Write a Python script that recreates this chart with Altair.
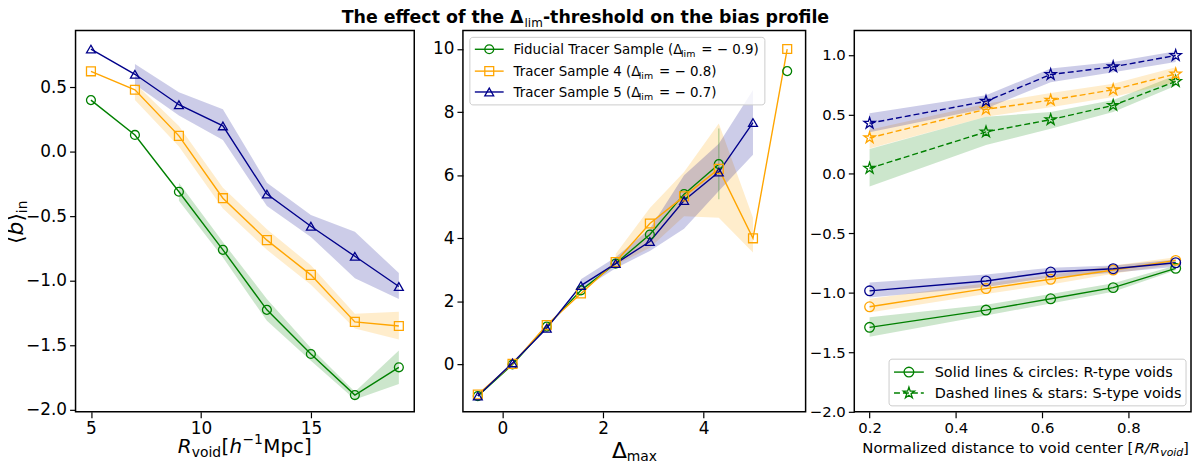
import altair as alt
import pandas as pd

GREEN, ORANGE, BLUE = "#008000", "#FFA500", "#00008B"
SERIES = ["fid", "s4", "s5"]
COLORS = [GREEN, ORANGE, BLUE]
SHAPES = ["circle", "square", "triangle-up"]
FONT = "DejaVu Sans"
STAR = ("M0,-1L0.2245,-0.309L0.951,-0.309L0.3633,0.118L0.588,0.809L0,0.382"
        "L-0.588,0.809L-0.3633,0.118L-0.951,-0.309L-0.2245,-0.309Z")

# ---------------- left panel: bias vs R_void ----------------
left_x = [5, 7, 9, 11, 13, 15, 17, 19]
left_green = [0.40, 0.13, -0.31, -0.76, -1.225, -1.567, -1.885, -1.67]
left_green_lo = [None, None, -0.38, -0.82, -1.31, -1.62, -1.92, -1.80]
left_green_hi = [None, None, -0.24, -0.70, -1.14, -1.52, -1.86, -1.54]
left_orange = [0.623, 0.48, 0.123, -0.36, -0.685, -0.954, -1.318, -1.35]
left_orange_lo = [None, 0.40, 0.04, -0.44, -0.76, -1.03, -1.37, -1.455]
left_orange_hi = [None, 0.53, 0.20, -0.28, -0.60, -0.88, -1.256, -1.24]
left_blue = [0.795, 0.60, 0.364, 0.20, -0.328, -0.577, -0.81, -1.044]
left_blue_lo = [None, 0.52, 0.28, 0.09, -0.42, -0.66, -0.98, -1.14]
left_blue_hi = [None, 0.68, 0.46, 0.33, -0.24, -0.49, -0.62, -0.94]

# ---------------- middle panel: bias vs Delta_max ----------------
mid_x = [-0.49, 0.20, 0.88, 1.56, 2.25, 2.93, 3.61, 4.30, 4.98, 5.66]
mid_green = [-1.0, 0.0, 1.2, 2.35, 3.2, 4.12, 5.4, 6.35, None, 9.3]
mid_green_lo = [None, None, None, None, None, None, None, 5.24, None, None]
mid_green_hi = [None, None, None, None, None, None, None, 7.48, None, None]
mid_orange = [-0.95, 0.02, 1.25, 2.25, 3.25, 4.47, 5.33, 6.2, 4.0, 10.0]
mid_orange_lo = [None, None, None, None, 3.15, 3.7, 4.7, 4.65, 3.55, None]
mid_orange_hi = [None, None, None, None, 3.5, 4.96, 6.1, 7.64, 4.65, None]
mid_blue = [-1.0, 0.05, 1.15, 2.5, 3.2, 3.9, 5.2, 6.1, 7.67, None]
mid_blue_lo = [None, None, None, 2.35, 3.05, 3.6, 4.3, 5.5, 6.65, None]
mid_blue_hi = [None, None, None, 2.7, 3.4, 4.3, 6.0, 7.0, 8.7, None]

# ---------------- right panel: profiles vs R/R_void ----------------
right_x = [0.2, 0.47, 0.62, 0.765, 0.91]
r_green = [-1.29, -1.145, -1.05, -0.956, -0.794]
r_green_lo = [-1.368, -1.19, -1.09, -0.99, -0.81]
r_green_hi = [-1.206, -1.10, -1.01, -0.92, -0.77]
r_orange = [-1.117, -0.964, -0.886, -0.808, -0.727]
r_orange_lo = [-1.165, -1.01, -0.93, -0.84, -0.76]
r_orange_hi = [-1.05, -0.92, -0.85, -0.77, -0.70]
r_blue = [-0.983, -0.90, -0.825, -0.797, -0.747]
r_blue_lo = [-1.04, -0.95, -0.87, -0.83, -0.78]
r_blue_hi = [-0.914, -0.845, -0.79, -0.77, -0.72]
s_green = [0.047, 0.353, 0.456, 0.576, 0.777]
s_green_lo = [-0.106, 0.242, 0.38, 0.52, 0.74]
s_green_hi = [0.209, 0.48, 0.52, 0.62, 0.83]
s_orange = [0.303, 0.543, 0.62, 0.707, 0.84]
s_orange_lo = [0.214, 0.48, 0.56, 0.646, 0.77]
s_orange_hi = [0.37, 0.59, 0.68, 0.757, 0.896]
s_blue = [0.426, 0.61, 0.835, 0.90, 0.995]
s_blue_lo = [0.35, 0.55, 0.77, 0.855, 0.94]
s_blue_hi = [0.51, 0.66, 0.885, 0.94, 1.03]


def build(xs, ys, lo, hi, series):
    pts, band = [], []
    seg = 0
    for i, x in enumerate(xs):
        if ys[i] is not None:
            pts.append(dict(x=x, y=ys[i], series=series, seg=seg))
        else:
            seg += 1
        if lo[i] is not None and hi[i] is not None:
            band.append(dict(x=x, lo=lo[i], hi=hi[i], series=series))
    return pts, band


def frames(specs):
    P, B = [], []
    for s in specs:
        p, b = build(*s)
        P += p
        B += b
    return pd.DataFrame(P), pd.DataFrame(B)


_dummy = pd.DataFrame({"a": [0]})


def txt(s, x, y, size, align="left", angle=None, style="normal", weight="normal"):
    kw = dict(text=s, fontSize=size, align=align, baseline="alphabetic", font=FONT,
              fontStyle=style, fontWeight=weight, color="black")
    if angle is not None:
        kw["angle"] = angle
    return alt.Chart(_dummy).mark_text(**kw).encode(x=alt.value(x), y=alt.value(y))


color_enc = alt.Color("series:N", scale=alt.Scale(domain=SERIES, range=COLORS), legend=None)
shape_enc = alt.Shape("series:N", scale=alt.Scale(domain=SERIES, range=SHAPES), legend=None)


def axis(values, fmt, size=17):
    return alt.Axis(values=values, format=fmt, title=None, labelFontSize=size,
                    labelFlush=False, labelOverlap=False)


def data_layers(pts, band, xdom, ydom, xaxis, yaxis, dash=None, shape=None, psize=80):
    X = alt.X("x:Q", scale=alt.Scale(domain=xdom, nice=False, zero=False), axis=xaxis)
    Y = alt.Y("y:Q", scale=alt.Scale(domain=ydom, nice=False, zero=False), axis=yaxis)
    YB = alt.Y("lo:Q", scale=alt.Scale(domain=ydom, nice=False, zero=False), axis=yaxis)
    band_layer = alt.Chart(band).mark_area(opacity=0.2).encode(
        x=X, y=YB, y2="hi:Q", color=color_enc)
    lkw = dict(strokeWidth=1.4)
    if dash is not None:
        lkw["strokeDash"] = dash
    line_layer = alt.Chart(pts).mark_line(**lkw).encode(x=X, y=Y, color=color_enc, detail="seg:N")
    if shape is None:
        point_layer = alt.Chart(pts).mark_point(filled=False, strokeWidth=1.3, opacity=1, size=psize).encode(
            x=X, y=Y, color=color_enc, shape=shape_enc)
    else:
        point_layer = alt.Chart(pts).mark_point(filled=False, strokeWidth=1.3, opacity=1, size=psize,
                                                shape=shape).encode(x=X, y=Y, color=color_enc)
    return [band_layer, line_layer, point_layer]


W_L, W_M, W_R, H = 341, 345, 339, 384

# ---- left
lp, lb = frames([
    (left_x, left_green, left_green_lo, left_green_hi, "fid"),
    (left_x, left_orange, left_orange_lo, left_orange_hi, "s4"),
    (left_x, left_blue, left_blue_lo, left_blue_hi, "s5"),
])
left_layers = data_layers(lp, lb, [4.3, 19.7], [-2.015, 0.94],
                          axis([5, 10, 15], "d"), axis([-2.0, -1.5, -1.0, -0.5, 0.0, 0.5], ".1f"))
left_layers += [
    txt("⟨", -53, 215, 22, angle=270),
    txt("b", -53, 206.4, 22, angle=270, style="italic"),
    txt("⟩", -53, 192.4, 22, angle=270),
    txt("in", -49, 184, 14, angle=270),
    txt("R", 103, 425, 20, style="italic"),
    txt("void", 117, 429, 14),
    txt("[", 147, 425, 20),
    txt("h", 155, 425, 20, style="italic"),
    txt("−1", 168, 416, 14),
    txt("Mpc]", 189, 425, 20),
]
left = alt.layer(*left_layers).properties(width=W_L, height=H)

# ---- middle
mp, mb = frames([
    (mid_x, mid_green, mid_green_lo, mid_green_hi, "fid"),
    (mid_x, mid_orange, mid_orange_lo, mid_orange_hi, "s4"),
    (mid_x, mid_blue, mid_blue_lo, mid_blue_hi, "s5"),
])
mid_layers = data_layers(mp, mb, [-0.786, 6.026], [-1.5, 10.59],
                         axis([0, 2, 4], "d"), axis([0, 2, 4, 6, 8, 10], "d"))
gband = mb[mb["series"] == "fid"].reset_index(drop=True)
mid_layers.insert(1, alt.Chart(gband).mark_rule(opacity=0.25, strokeWidth=1.5, color=GREEN).encode(
    x="x:Q", y="lo:Q", y2="hi:Q"))
legend_rows = [
    ("Fiducial Tracer Sample (Δ", "= − 0.9)", GREEN, "circle", 19, 168.5),
    ("Tracer Sample 4 (Δ", "= − 0.8)", ORANGE, "square", 41, 126.0),
    ("Tracer Sample 5 (Δ", "= − 0.7)", BLUE, "triangle-up", 62, 126.0),
]
mid_layers.append(alt.Chart(_dummy).mark_rect(fill="white", fillOpacity=0.8, stroke="#cccccc",
                                              strokeWidth=1, cornerRadius=3).encode(
    x=alt.value(7), x2=alt.value(304), y=alt.value(7), y2=alt.value(75)))
for pre, post, col, shp, yy, wpre in legend_rows:
    mid_layers.append(alt.Chart(_dummy).mark_rule(color=col, strokeWidth=1.4).encode(
        x=alt.value(12), x2=alt.value(41), y=alt.value(yy), y2=alt.value(yy)))
    mid_layers.append(alt.Chart(_dummy).mark_point(shape=shp, filled=False, color=col, size=80,
                                                   strokeWidth=1.3, opacity=1).encode(
        x=alt.value(26.5), y=alt.value(yy)))
    mid_layers.append(txt(pre, 51, yy + 5, 13.5))
    mid_layers.append(txt("lim", 51 + wpre, yy + 8, 9.5))
    mid_layers.append(txt(post, 51 + wpre + 20.5, yy + 5, 13.5))
mid_layers += [
    txt("Δ", 150, 430, 22),
    txt("max", 165, 434, 14),
    txt("The effect of the Δ", 61, -7, 17.5, align="right", weight="bold"),
    txt("lim", 62, -3, 12),
    txt("-threshold on the bias profile", 80.5, -7, 17.5, weight="bold"),
]
mid = alt.layer(*mid_layers).properties(width=W_M, height=H)

# ---- right
rp_R, rb_R = frames([
    (right_x, r_green, r_green_lo, r_green_hi, "fid"),
    (right_x, r_orange, r_orange_lo, r_orange_hi, "s4"),
    (right_x, r_blue, r_blue_lo, r_blue_hi, "s5"),
])
rp_S, rb_S = frames([
    (right_x, s_green, s_green_lo, s_green_hi, "fid"),
    (right_x, s_orange, s_orange_lo, s_orange_hi, "s4"),
    (right_x, s_blue, s_blue_lo, s_blue_hi, "s5"),
])
rxa = axis([0.2, 0.4, 0.6, 0.8], ".1f", 15)
rya = axis([-2.0, -1.5, -1.0, -0.5, 0.0, 0.5, 1.0], ".1f", 15)
right_layers = (data_layers(rp_R, rb_R, [0.1645, 0.9455], [-2.0, 1.206], rxa, rya, shape="circle", psize=95)
                + data_layers(rp_S, rb_S, [0.1645, 0.9455], [-2.0, 1.206], rxa, rya, dash=[6, 3],
                              shape=STAR, psize=140))
right_layers.append(alt.Chart(_dummy).mark_rect(fill="white", fillOpacity=0.8, stroke="#cccccc",
                                                strokeWidth=1, cornerRadius=3).encode(
    x=alt.value(35), x2=alt.value(334), y=alt.value(331), y2=alt.value(378)))
for label, dash, shp, sz, yy in [
    ("Solid lines & circles: R-type voids", None, "circle", 95, 344),
    ("Dashed lines & stars: S-type voids", [6, 3], STAR, 140, 365),
]:
    rkw = dict(color=GREEN, strokeWidth=1.4)
    if dash is not None:
        rkw["strokeDash"] = dash
    right_layers.append(alt.Chart(_dummy).mark_rule(**rkw).encode(
        x=alt.value(40), x2=alt.value(70), y=alt.value(yy), y2=alt.value(yy)))
    right_layers.append(alt.Chart(_dummy).mark_point(shape=shp, filled=False, color=GREEN, size=sz,
                                                     strokeWidth=1.3, opacity=1).encode(
        x=alt.value(55), y=alt.value(yy)))
    right_layers.append(txt(label, 81, yy + 5, 14.5))
right_layers += [
    txt("Normalized distance to void center [", 281, 425, 15, align="right"),
    txt("R/R", 282, 425, 15, style="italic"),
    txt("void", 308, 428, 11, style="italic"),
    txt("]", 331, 425, 15),
]
right = alt.layer(*right_layers).properties(width=W_R, height=H)

chart = alt.hconcat(left, mid, right, spacing=49, bounds="flush").properties(
    padding={"left": -4, "top": -1, "right": 0, "bottom": 0}
).configure_view(
    stroke="black", strokeWidth=1.5
).configure_axis(
    domain=False, grid=False, tickColor="black", tickWidth=1.2, tickSize=6,
    labelColor="black", labelFont=FONT, labelPadding=3,
)

chart.save("out.html", embed_options={"renderer": "svg", "actions": False})
